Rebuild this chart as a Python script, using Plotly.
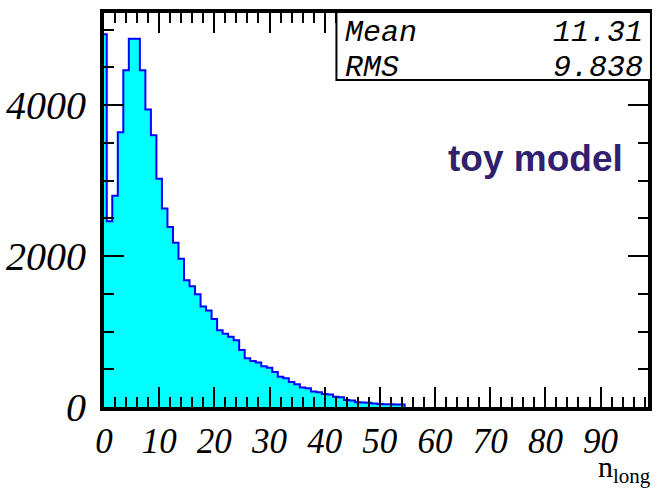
import numpy as np
import plotly.graph_objects as go

# Histogram of n_long: integer-valued counts, one bin per integer value
bin_centers = list(range(0, 55))
counts = [4940, 2460, 2800, 3640, 4460, 4880, 4880, 4460, 3940, 3600,
          3025, 2630, 2385, 2175, 1965, 1680, 1600, 1495, 1330, 1280,
          1165, 1016, 972, 930, 885, 755, 645, 610, 590, 540,
          520, 464, 400, 380, 331, 300, 258, 248, 205, 195,
          172, 165, 135, 128, 92, 86, 62, 58, 55, 45,
          40, 36, 35, 34, 32]

x_tick_vals = [0, 10, 20, 30, 40, 50, 60, 70, 80, 90]
y_tick_vals = [0, 2000, 4000]

stats_names = ["Mean", "RMS"]
stats_values = ["11.31", "9.838"]

x_range = [0, 98.6]
y_range = [0, 5220]

# Step outline: bins are centred on the integers
edges = [c - 0.5 for c in bin_centers]
step_x = edges + [edges[-1] + 1, edges[-1] + 1]
step_y = counts + [counts[-1], 0]

fig = go.Figure()
fig.add_trace(go.Scatter(
    x=step_x, y=step_y, mode="lines", line_shape="hv",
    line=dict(color="#0000FF", width=2),
    fill="tozeroy", fillcolor="#00FFFF",
    hoverinfo="skip", showlegend=False,
))

tick_font = dict(family="Liberation Serif", color="black", style="italic")

fig.update_xaxes(
    range=x_range, tickmode="array", tickvals=x_tick_vals,
    ticktext=[str(v) for v in x_tick_vals],
    ticks="inside", ticklen=20, tickwidth=2, tickcolor="black",
    showline=True, linecolor="black", linewidth=4, mirror="ticks",
    showgrid=False, zeroline=False,
    tickfont=dict(size=35, **tick_font),
    minor=dict(tickmode="array", tickvals=list(np.arange(0, 98.6, 2)),
               ticks="inside", ticklen=10, tickwidth=1.5, tickcolor="black",
               showgrid=False),
)
fig.update_yaxes(
    range=y_range, tickmode="array", tickvals=y_tick_vals,
    ticktext=[str(v) for v in y_tick_vals],
    ticks="inside", ticklen=20, tickwidth=2, tickcolor="black",
    showline=True, linecolor="black", linewidth=4, mirror="ticks",
    showgrid=False, zeroline=False,
    tickfont=dict(size=40, **tick_font),
    ticklabelstandoff=6,
    minor=dict(tickmode="array", tickvals=list(range(0, 5220, 500)),
               ticks="inside", ticklen=10, tickwidth=1.5, tickcolor="black",
               showgrid=False),
)

L, R, T, B = 102, 6, 13, 82
W, H = 658, 489
pw, ph = W - L - R, H - T - B


def px(xp):
    return (xp - L) / pw


def py(yp):
    return (H - B - yp) / ph


# Statistics box in the top-right corner
fig.add_shape(type="rect", xref="paper", yref="paper",
              x0=px(337), x1=px(655), y0=py(80), y1=py(12),
              fillcolor="white", line=dict(color="black", width=2), layer="above")

stat_font = dict(family="Liberation Mono", size=30, color="black", style="italic")
for i, (name, val) in enumerate(zip(stats_names, stats_values)):
    yc = py(33 + 35 * i)
    fig.add_annotation(text=name, xref="paper", yref="paper", x=px(344), y=yc,
                       xanchor="left", yanchor="middle", showarrow=False, font=stat_font)
    fig.add_annotation(text=val, xref="paper", yref="paper", x=px(649), y=yc,
                       xanchor="right", yanchor="middle", showarrow=False, font=stat_font)

fig.add_annotation(text="<b>toy model</b>", xref="paper", yref="paper",
                   x=px(538), y=py(158), xanchor="center", yanchor="middle",
                   showarrow=False,
                   font=dict(family="Liberation Sans", size=37, color="rgb(48,32,110)"))

# Axis title at the lower right
fig.add_annotation(text="n<sub>long</sub>", xref="paper", yref="paper",
                   x=px(657), y=py(490), xanchor="right", yanchor="bottom",
                   showarrow=False,
                   font=dict(family="Liberation Serif", size=30, color="black"))

fig.update_layout(
    width=W, height=H, margin=dict(l=L, r=R, t=T, b=B),
    paper_bgcolor="white", plot_bgcolor="white", showlegend=False,
)

fig.write_html("out.html")
